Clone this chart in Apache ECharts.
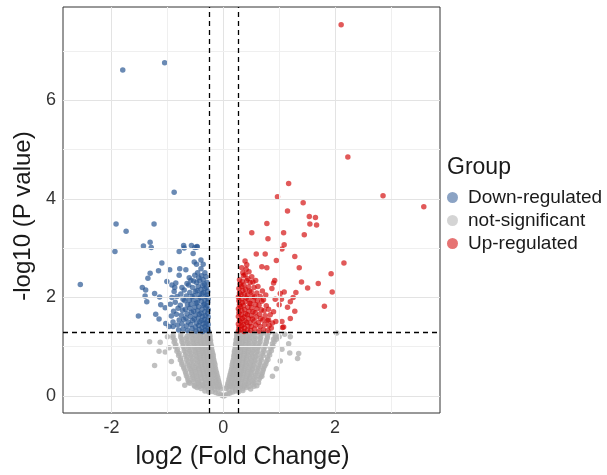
<!DOCTYPE html>
<html>
<head>
<meta charset="utf-8">
<script src="https://cdn.jsdelivr.net/npm/echarts@6/dist/echarts.min.js"></script>
<style>
  html, body { margin: 0; padding: 0; background: #fff; }
  #chart { width: 607px; height: 475px; }
</style>
</head>
<body>
<div id="chart"></div>
<script>
// axis ticks and cut-offs
const xTicks = [-2, 0, 2];
const yTicks = [0, 2, 4, 6];
const xGrid = [-2, -1, 0, 1, 2, 3];
const yGrid = [0, 1, 2, 3, 4, 5, 6, 7];
const fcCut = 0.263;   // log2(1.2)
const pCut = 1.301;    // -log10(0.05)
const groups = ["Down-regulated", "not-significant", "Up-regulated"];

// [log2FC, -log10 P]
const downPoints = [
  [-1.80, 6.61], [-1.05, 6.76], [-0.88, 4.13], [-1.92, 3.49], [-1.24, 3.49], [-1.74, 3.34],
  [-1.94, 2.93], [-1.43, 3.04], [-1.31, 3.12], [-1.29, 3.01], [-2.56, 2.26], [-1.52, 1.62],
  [-0.71, 3.05], [-0.70, 3.00], [-0.57, 3.05], [-0.51, 3.01], [-0.47, 3.02], [-0.79, 2.93],
  [-1.45, 2.20], [-1.39, 2.15], [-1.35, 2.39], [-1.31, 2.49], [-1.10, 2.70], [-1.16, 2.54],
  [-0.96, 2.56], [-1.23, 2.08], [-1.14, 2.01], [-1.40, 2.03], [-1.37, 1.91], [-1.21, 1.66],
  [-1.15, 1.56], [-1.03, 1.47], [-1.12, 1.85], [-1.04, 1.79], [-1.01, 2.32], [-0.92, 2.25],
  [-0.87, 2.20], [-0.85, 2.29], [-0.78, 2.58], [-0.79, 2.45], [-0.67, 2.56], [-0.61, 2.40],
  [-0.52, 2.72], [-0.48, 2.67], [-0.40, 2.76], [-0.54, 2.89], [-0.47, 3.03], [-0.97, 1.41],
  [-0.90, 1.41],
  [-0.27, 1.32], [-0.28, 1.38], [-0.27, 1.45], [-0.29, 1.52], [-0.27, 1.60], [-0.28, 1.68],
  [-0.27, 1.75], [-0.29, 1.83], [-0.28, 1.90], [-0.27, 1.97], [-0.29, 2.05], [-0.28, 2.12],
  [-0.30, 2.20], [-0.29, 2.30], [-0.31, 2.42],
  [-0.32, 1.34], [-0.33, 1.41], [-0.31, 1.48], [-0.34, 1.55], [-0.32, 1.63], [-0.33, 1.71],
  [-0.31, 1.79], [-0.34, 1.86], [-0.33, 1.94], [-0.32, 2.02], [-0.35, 2.10], [-0.33, 2.18],
  [-0.34, 2.27], [-0.36, 2.36], [-0.33, 2.50],
  [-0.37, 1.31], [-0.38, 1.39], [-0.36, 1.46], [-0.39, 1.53], [-0.37, 1.61], [-0.40, 1.68],
  [-0.38, 1.76], [-0.36, 1.84], [-0.39, 1.92], [-0.41, 2.00], [-0.38, 2.08], [-0.40, 2.16],
  [-0.37, 2.24], [-0.42, 2.33], [-0.39, 2.44], [-0.40, 2.58], [-0.36, 2.67],
  [-0.43, 1.35], [-0.44, 1.43], [-0.42, 1.50], [-0.45, 1.58], [-0.43, 1.66], [-0.46, 1.73],
  [-0.44, 1.81], [-0.47, 1.89], [-0.45, 1.97], [-0.43, 2.06], [-0.47, 2.14], [-0.45, 2.22],
  [-0.48, 2.30], [-0.44, 2.40], [-0.46, 2.50],
  [-0.49, 1.32], [-0.50, 1.40], [-0.48, 1.48], [-0.52, 1.56], [-0.50, 1.64], [-0.53, 1.72],
  [-0.51, 1.80], [-0.49, 1.88], [-0.54, 1.95], [-0.52, 2.04], [-0.50, 2.12], [-0.55, 2.20],
  [-0.53, 2.33], [-0.51, 2.45],
  [-0.56, 1.37], [-0.58, 1.45], [-0.55, 1.53], [-0.59, 1.61], [-0.57, 1.70], [-0.60, 1.78],
  [-0.58, 1.86], [-0.61, 1.94], [-0.56, 2.02], [-0.60, 2.10], [-0.62, 2.25], [-0.58, 2.35],
  [-0.64, 1.33], [-0.66, 1.42], [-0.63, 1.50], [-0.67, 1.58], [-0.65, 1.67], [-0.68, 1.76],
  [-0.64, 1.85], [-0.69, 1.93], [-0.66, 2.03], [-0.70, 2.15], [-0.65, 2.28],
  [-0.72, 1.36], [-0.74, 1.46], [-0.71, 1.55], [-0.75, 1.64], [-0.73, 1.74], [-0.77, 1.84],
  [-0.72, 1.96], [-0.76, 2.07], [-0.74, 2.20],
  [-0.80, 1.34], [-0.82, 1.44], [-0.79, 1.54], [-0.84, 1.66], [-0.81, 1.78], [-0.86, 1.90],
  [-0.83, 2.02], [-0.88, 2.12],
  [-0.90, 1.50], [-0.93, 1.62], [-0.89, 1.72], [-0.95, 1.86], [-0.92, 2.00]
];

const upPoints = [
  [2.11, 7.53], [2.23, 4.85], [2.86, 4.06], [3.59, 3.84], [1.17, 4.31], [0.97, 4.04],
  [1.43, 3.92], [1.15, 3.75], [1.54, 3.64], [1.65, 3.62], [1.55, 3.49], [1.67, 3.47],
  [0.78, 3.50], [0.51, 3.31], [1.08, 3.31], [0.80, 3.19], [1.45, 3.27], [1.09, 3.07],
  [1.05, 2.98], [0.59, 2.88], [0.75, 2.88], [1.28, 2.83], [0.95, 2.75], [2.16, 2.70],
  [1.36, 2.60], [1.93, 2.48], [1.40, 2.31], [1.70, 2.28], [1.51, 2.19], [1.95, 2.11],
  [1.81, 1.82], [1.30, 2.10], [1.20, 1.91], [1.15, 1.80], [1.28, 1.72], [1.20, 1.57],
  [1.05, 1.51], [0.94, 1.51], [1.06, 1.39], [0.90, 2.29], [0.87, 2.18], [1.02, 2.08],
  [1.09, 2.11], [1.04, 1.96], [0.93, 1.96], [1.00, 1.85], [0.90, 1.71], [0.81, 1.54],
  [0.69, 2.62], [0.78, 2.60], [0.42, 2.66], [0.35, 2.50], [0.39, 2.74], [0.92, 2.34],
  [1.25, 2.00], [1.08, 1.40],
  [0.27, 1.32], [0.28, 1.39], [0.27, 1.46], [0.29, 1.53], [0.27, 1.61], [0.28, 1.69],
  [0.27, 1.77], [0.29, 1.85], [0.28, 1.93], [0.27, 2.01], [0.29, 2.09], [0.28, 2.18],
  [0.30, 2.27], [0.29, 2.36],
  [0.32, 1.35], [0.33, 1.42], [0.31, 1.50], [0.34, 1.57], [0.32, 1.65], [0.33, 1.73],
  [0.31, 1.81], [0.34, 1.89], [0.33, 1.97], [0.32, 2.05], [0.35, 2.14], [0.33, 2.22],
  [0.34, 2.32], [0.36, 2.44], [0.33, 2.60],
  [0.37, 1.31], [0.38, 1.38], [0.36, 1.45], [0.39, 1.52], [0.37, 1.60], [0.40, 1.67],
  [0.38, 1.75], [0.36, 1.83], [0.39, 1.91], [0.41, 1.99], [0.38, 2.07], [0.40, 2.16],
  [0.37, 2.25], [0.42, 2.34], [0.39, 2.46], [0.41, 2.57],
  [0.43, 1.34], [0.44, 1.42], [0.42, 1.49], [0.45, 1.57], [0.43, 1.65], [0.46, 1.72],
  [0.44, 1.80], [0.47, 1.88], [0.45, 1.96], [0.43, 2.05], [0.47, 2.13], [0.45, 2.21],
  [0.48, 2.30], [0.44, 2.38], [0.46, 2.52],
  [0.49, 1.33], [0.50, 1.41], [0.48, 1.48], [0.52, 1.56], [0.50, 1.63], [0.53, 1.71],
  [0.51, 1.79], [0.49, 1.87], [0.54, 1.94], [0.52, 2.03], [0.50, 2.11], [0.55, 2.20],
  [0.53, 2.31], [0.51, 2.42],
  [0.56, 1.36], [0.58, 1.44], [0.55, 1.52], [0.59, 1.60], [0.57, 1.69], [0.60, 1.77],
  [0.58, 1.85], [0.61, 1.93], [0.56, 2.01], [0.60, 2.09], [0.62, 2.22], [0.58, 2.34],
  [0.64, 1.32], [0.66, 1.41], [0.63, 1.49], [0.67, 1.57], [0.65, 1.66], [0.68, 1.75],
  [0.64, 1.84], [0.69, 1.92], [0.66, 2.02], [0.70, 2.13],
  [0.72, 1.35], [0.74, 1.45], [0.71, 1.54], [0.75, 1.63], [0.73, 1.73], [0.77, 1.83],
  [0.72, 1.95], [0.76, 2.05],
  [0.80, 1.33], [0.82, 1.43], [0.79, 1.53], [0.84, 1.65], [0.81, 1.76], [0.86, 1.38],
  [0.88, 1.48]
];

const nsPoints = [
  [-0.02, 0.01], [0.01, 0.00], [0.04, 0.02], [-0.05, 0.03], [0.08, 0.04], [-0.09, 0.05],
  [0.12, 0.06], [-0.14, 0.07], [0.17, 0.08], [-0.20, 0.09], [0.22, 0.10], [-0.26, 0.08],
  [0.28, 0.09], [-0.33, 0.10], [0.35, 0.11],
  [-0.05, 0.14], [-0.10, 0.16], [-0.15, 0.13], [-0.21, 0.17], [-0.27, 0.14], [-0.33, 0.18],
  [-0.40, 0.15], [-0.47, 0.17], [0.05, 0.15], [0.10, 0.13], [0.16, 0.17], [0.22, 0.14],
  [0.28, 0.18], [0.35, 0.15], [0.42, 0.17], [0.49, 0.14],
  [-0.06, 0.19], [-0.11, 0.20], [-0.17, 0.19], [-0.23, 0.20], [-0.29, 0.19], [-0.36, 0.21],
  [-0.43, 0.19], [-0.51, 0.20], [0.07, 0.19], [0.12, 0.20], [0.18, 0.19], [0.24, 0.21],
  [0.31, 0.19], [0.38, 0.20], [0.46, 0.19], [0.55, 0.20],
  [-0.07, 0.23], [-0.12, 0.26], [-0.18, 0.24], [-0.24, 0.22], [-0.30, 0.26], [-0.37, 0.23],
  [-0.44, 0.25], [-0.52, 0.22], [-0.60, 0.26], [0.08, 0.24], [0.13, 0.22], [0.19, 0.26],
  [0.25, 0.23], [0.31, 0.25], [0.38, 0.22], [0.45, 0.26], [0.53, 0.24], [0.60, 0.21],
  [-0.08, 0.28], [-0.13, 0.29], [-0.19, 0.27], [-0.25, 0.29], [-0.31, 0.28], [-0.38, 0.29],
  [-0.45, 0.27], [-0.53, 0.29], [-0.62, 0.28], [0.09, 0.28], [0.14, 0.27], [0.20, 0.29],
  [0.26, 0.28], [0.32, 0.29], [0.39, 0.27], [0.46, 0.29], [0.54, 0.28], [0.63, 0.27],
  [-0.09, 0.32], [-0.14, 0.35], [-0.20, 0.31], [-0.26, 0.34], [-0.32, 0.32], [-0.39, 0.35],
  [-0.46, 0.31], [-0.54, 0.34], [-0.63, 0.32], [0.10, 0.33], [0.15, 0.31], [0.21, 0.35],
  [0.27, 0.32], [0.33, 0.34], [0.40, 0.31], [0.47, 0.35], [0.55, 0.32], [0.64, 0.34],
  [-0.10, 0.37], [-0.15, 0.38], [-0.21, 0.36], [-0.27, 0.38], [-0.33, 0.37], [-0.40, 0.38],
  [-0.47, 0.36], [-0.55, 0.38], [-0.64, 0.37], [0.11, 0.37], [0.16, 0.36], [0.22, 0.38],
  [0.28, 0.37], [0.34, 0.38], [0.41, 0.36], [0.48, 0.38], [0.56, 0.37], [0.66, 0.38],
  [-0.11, 0.41], [-0.16, 0.44], [-0.22, 0.40], [-0.28, 0.43], [-0.34, 0.41], [-0.41, 0.44],
  [-0.48, 0.40], [-0.56, 0.43], [-0.66, 0.41], [0.12, 0.42], [0.17, 0.40], [0.23, 0.44],
  [0.29, 0.41], [0.35, 0.43], [0.42, 0.40], [0.50, 0.44], [0.58, 0.41], [0.68, 0.43],
  [-0.12, 0.46], [-0.17, 0.47], [-0.23, 0.45], [-0.29, 0.47], [-0.35, 0.46], [-0.42, 0.47],
  [-0.49, 0.45], [-0.57, 0.47], [-0.67, 0.46], [0.13, 0.46], [0.18, 0.45], [0.24, 0.47],
  [0.30, 0.46], [0.36, 0.47], [0.43, 0.45], [0.51, 0.47], [0.60, 0.46], [0.70, 0.47],
  [-0.13, 0.50], [-0.18, 0.53], [-0.24, 0.49], [-0.30, 0.52], [-0.36, 0.50], [-0.43, 0.53],
  [-0.50, 0.49], [-0.58, 0.52], [-0.68, 0.50], [0.14, 0.51], [0.19, 0.49], [0.25, 0.53],
  [0.31, 0.50], [0.37, 0.52], [0.44, 0.49], [0.52, 0.53], [0.61, 0.50], [0.71, 0.52],
  [-0.14, 0.55], [-0.19, 0.56], [-0.25, 0.54], [-0.31, 0.56], [-0.37, 0.55], [-0.44, 0.56],
  [-0.51, 0.54], [-0.60, 0.56], [-0.70, 0.55], [0.15, 0.55], [0.20, 0.54], [0.26, 0.56],
  [0.32, 0.55], [0.38, 0.56], [0.45, 0.54], [0.53, 0.56], [0.62, 0.55], [0.72, 0.56],
  [-0.15, 0.59], [-0.20, 0.62], [-0.26, 0.58], [-0.32, 0.61], [-0.38, 0.59], [-0.45, 0.62],
  [-0.52, 0.58], [-0.61, 0.61], [-0.71, 0.59], [0.16, 0.60], [0.21, 0.58], [0.27, 0.62],
  [0.33, 0.59], [0.39, 0.61], [0.46, 0.58], [0.54, 0.62], [0.63, 0.59], [0.74, 0.61],
  [-0.15, 0.64], [-0.21, 0.65], [-0.27, 0.63], [-0.33, 0.65], [-0.40, 0.64], [-0.47, 0.65],
  [-0.55, 0.63], [-0.64, 0.65], [-0.74, 0.64], [0.16, 0.64], [0.22, 0.63], [0.28, 0.65],
  [0.34, 0.64], [0.41, 0.65], [0.48, 0.63], [0.56, 0.65], [0.66, 0.64], [0.76, 0.65],
  [-0.16, 0.68], [-0.21, 0.71], [-0.27, 0.67], [-0.33, 0.70], [-0.39, 0.68], [-0.46, 0.71],
  [-0.54, 0.67], [-0.63, 0.70], [-0.74, 0.68], [0.17, 0.69], [0.22, 0.67], [0.28, 0.71],
  [0.34, 0.68], [0.40, 0.70], [0.47, 0.67], [0.56, 0.71], [0.65, 0.68], [0.77, 0.70],
  [-0.17, 0.73], [-0.22, 0.74], [-0.28, 0.72], [-0.34, 0.74], [-0.41, 0.73], [-0.48, 0.74],
  [-0.56, 0.72], [-0.66, 0.74], [-0.77, 0.73], [0.18, 0.73], [0.23, 0.72], [0.29, 0.74],
  [0.35, 0.73], [0.42, 0.74], [0.50, 0.72], [0.58, 0.74], [0.68, 0.73], [0.80, 0.74],
  [-0.18, 0.77], [-0.23, 0.80], [-0.29, 0.76], [-0.35, 0.79], [-0.41, 0.77], [-0.48, 0.80],
  [-0.56, 0.76], [-0.65, 0.79], [-0.76, 0.77], [0.19, 0.78], [0.24, 0.76], [0.30, 0.80],
  [0.36, 0.77], [0.42, 0.79], [0.49, 0.76], [0.58, 0.80], [0.67, 0.77], [0.79, 0.79],
  [-0.18, 0.82], [-0.23, 0.83], [-0.29, 0.81], [-0.35, 0.83], [-0.42, 0.82], [-0.50, 0.83],
  [-0.58, 0.81], [-0.68, 0.83], [-0.80, 0.82], [0.19, 0.82], [0.24, 0.81], [0.30, 0.83],
  [0.37, 0.82], [0.44, 0.83], [0.52, 0.81], [0.61, 0.83], [0.71, 0.82], [0.83, 0.83],
  [-0.19, 0.86], [-0.24, 0.89], [-0.30, 0.85], [-0.36, 0.88], [-0.42, 0.86], [-0.50, 0.89],
  [-0.58, 0.85], [-0.67, 0.88], [-0.79, 0.86], [0.20, 0.87], [0.25, 0.85], [0.31, 0.89],
  [0.37, 0.86], [0.44, 0.88], [0.51, 0.85], [0.60, 0.89], [0.70, 0.86], [0.82, 0.88],
  [-0.20, 0.91], [-0.25, 0.92], [-0.31, 0.90], [-0.37, 0.92], [-0.44, 0.91], [-0.51, 0.92],
  [-0.60, 0.90], [-0.70, 0.92], [-0.83, 0.91], [0.20, 0.91], [0.25, 0.90], [0.31, 0.92],
  [0.38, 0.91], [0.45, 0.92], [0.53, 0.90], [0.62, 0.92], [0.73, 0.91], [0.86, 0.92],
  [-0.21, 0.95], [-0.26, 0.98], [-0.32, 0.94], [-0.38, 0.97], [-0.44, 0.95], [-0.52, 0.98],
  [-0.60, 0.94], [-0.70, 0.97], [-0.82, 0.95], [0.21, 0.96], [0.26, 0.94], [0.32, 0.98],
  [0.38, 0.95], [0.45, 0.97], [0.53, 0.94], [0.62, 0.98], [0.72, 0.95], [0.85, 0.97],
  [-0.21, 1.00], [-0.26, 1.01], [-0.32, 0.99], [-0.39, 1.01], [-0.46, 1.00], [-0.53, 1.01],
  [-0.62, 0.99], [-0.72, 1.01], [-0.86, 1.00], [0.22, 1.00], [0.27, 0.99], [0.33, 1.01],
  [0.40, 1.00], [0.47, 1.01], [0.55, 0.99], [0.64, 1.01], [0.75, 1.00], [0.89, 1.01],
  [-0.22, 1.04], [-0.27, 1.07], [-0.33, 1.03], [-0.39, 1.06], [-0.46, 1.04], [-0.54, 1.07],
  [-0.62, 1.03], [-0.72, 1.06], [-0.85, 1.04], [0.22, 1.05], [0.27, 1.03], [0.33, 1.07],
  [0.39, 1.04], [0.46, 1.06], [0.55, 1.03], [0.64, 1.07], [0.75, 1.04], [0.88, 1.06],
  [-0.23, 1.09], [-0.28, 1.10], [-0.34, 1.08], [-0.41, 1.10], [-0.48, 1.09], [-0.55, 1.10],
  [-0.64, 1.08], [-0.74, 1.10], [-0.88, 1.09], [0.23, 1.09], [0.28, 1.08], [0.34, 1.10],
  [0.41, 1.09], [0.48, 1.10], [0.56, 1.08], [0.66, 1.10], [0.77, 1.09], [0.91, 1.10],
  [-0.23, 1.13], [-0.28, 1.16], [-0.34, 1.12], [-0.40, 1.15], [-0.47, 1.13], [-0.55, 1.16],
  [-0.64, 1.12], [-0.74, 1.15], [-0.87, 1.13], [0.23, 1.14], [0.28, 1.12], [0.34, 1.16],
  [0.40, 1.13], [0.47, 1.15], [0.56, 1.12], [0.66, 1.16], [0.77, 1.13], [0.90, 1.15],
  [-0.24, 1.18], [-0.29, 1.19], [-0.35, 1.17], [-0.42, 1.19], [-0.49, 1.18], [-0.57, 1.19],
  [-0.66, 1.17], [-0.76, 1.19], [-0.90, 1.18], [0.24, 1.18], [0.29, 1.17], [0.35, 1.19],
  [0.42, 1.18], [0.49, 1.19], [0.57, 1.17], [0.67, 1.19], [0.79, 1.18], [0.93, 1.19],
  [-0.24, 1.22], [-0.29, 1.25], [-0.35, 1.21], [-0.41, 1.24], [-0.48, 1.22], [-0.56, 1.25],
  [-0.65, 1.21], [-0.76, 1.24], [-0.90, 1.22], [0.24, 1.23], [0.29, 1.21], [0.35, 1.25],
  [0.41, 1.22], [0.48, 1.24], [0.57, 1.21], [0.67, 1.25], [0.79, 1.22], [0.93, 1.24],
  [-0.25, 1.29], [-0.31, 1.28], [-0.38, 1.29], [-0.45, 1.28], [-0.53, 1.29], [-0.62, 1.28],
  [0.26, 1.28], [0.32, 1.29], [0.39, 1.28], [0.46, 1.29], [0.54, 1.28], [0.63, 1.29],
  [0.72, 1.28], [0.82, 1.29],
  [-1.32, 1.10], [-1.13, 1.09], [-1.15, 0.91], [-1.04, 0.89], [-1.23, 0.62], [-0.69, 0.22],
  [-1.00, 1.20], [-0.97, 0.98], [-0.93, 0.70], [-0.88, 0.45], [-0.80, 0.35], [1.33, 0.76],
  [1.35, 0.86], [1.19, 0.87], [1.02, 0.71], [1.17, 1.06], [1.00, 1.20], [0.69, 0.40],
  [2.03, 1.28], [1.10, 1.25], [1.05, 0.95], [0.95, 0.55], [0.88, 0.40], [1.20, 1.20],
  [0.95, 1.15]
];

const chart = echarts.init(document.getElementById("chart"), null, { renderer: "canvas" });
const font = "Liberation Sans, Arial, sans-serif";

const gridLines = [
  ...xGrid.map((v) => ({ xAxis: v, lineStyle: { color: v % 2 === 0 ? "#e3e3e3" : "#efefef", width: 1, type: "solid" } })),
  ...yGrid.map((v) => ({ yAxis: v, lineStyle: { color: v % 2 === 0 ? "#e3e3e3" : "#efefef", width: 1, type: "solid" } }))
];

function pointSeries(name, data, color, opacity) {
  return {
    name,
    type: "scatter",
    data,
    symbol: "circle",
    symbolSize: 5.5,
    z: 3,
    itemStyle: { color, opacity }
  };
}

chart.setOption({
  animation: false,
  textStyle: { fontFamily: font },
  title: {
    text: "Group",
    left: 442,
    top: 151,
    textStyle: { fontSize: 23, fontWeight: "normal", color: "#1a1a1a", fontFamily: font }
  },
  legend: {
    data: groups,
    orient: "vertical",
    left: 442,
    top: 183,
    itemWidth: 11,
    itemHeight: 11,
    itemGap: 4,
    icon: "circle",
    itemStyle: { opacity: 0.55 },
    textStyle: { fontSize: 19, color: "#1a1a1a", fontFamily: font, padding: [0, 0, 0, 5] }
  },
  grid: {
    left: 63, right: 167, top: 7, bottom: 62,
    outerBoundsMode: "none",
    show: true, borderColor: "#333", borderWidth: 1, backgroundColor: "#fff"
  },
  xAxis: {
    type: "value",
    min: -2.87,
    max: 3.88,
    name: "log2 (Fold Change)",
    nameLocation: "middle",
    nameGap: 32,
    nameTextStyle: { fontSize: 25, color: "#1a1a1a", fontFamily: font, padding: [0, 18, 0, 0] },
    axisLine: { show: false },
    splitLine: { show: false },
    axisTick: { show: true, length: 4, lineStyle: { color: "#333" }, customValues: xTicks },
    axisLabel: { customValues: xTicks, fontSize: 18, color: "#333", margin: 6, fontFamily: font }
  },
  yAxis: {
    type: "value",
    min: -0.345,
    max: 7.89,
    name: "-log10 (P value)",
    nameLocation: "middle",
    nameGap: 24,
    nameTextStyle: { fontSize: 24, color: "#1a1a1a", fontFamily: font, padding: [0, 12, 0, 0] },
    axisLine: { show: false },
    splitLine: { show: false },
    axisTick: { show: true, length: 4, lineStyle: { color: "#333" }, customValues: yTicks },
    axisLabel: { customValues: yTicks, fontSize: 18, color: "#333", margin: 7, fontFamily: font }
  },
  series: [
    {
      type: "scatter",
      data: [],
      silent: true,
      z: 1,
      markLine: { silent: true, symbol: ["none", "none"], label: { show: false }, data: gridLines }
    },
    pointSeries(groups[1], nsPoints, "#b0b0b0", 0.8),
    pointSeries(groups[0], downPoints, "#2b5894", 0.7),
    pointSeries(groups[2], upPoints, "#d10000", 0.65),
    {
      type: "scatter",
      data: [],
      silent: true,
      z: 5,
      markLine: {
        silent: true,
        symbol: ["none", "none"],
        label: { show: false },
        lineStyle: { color: "#000", width: 1.3, type: [5, 4] },
        data: [{ xAxis: -fcCut }, { xAxis: fcCut }, { yAxis: pCut }]
      }
    }
  ]
});
</script>
</body>
</html>
